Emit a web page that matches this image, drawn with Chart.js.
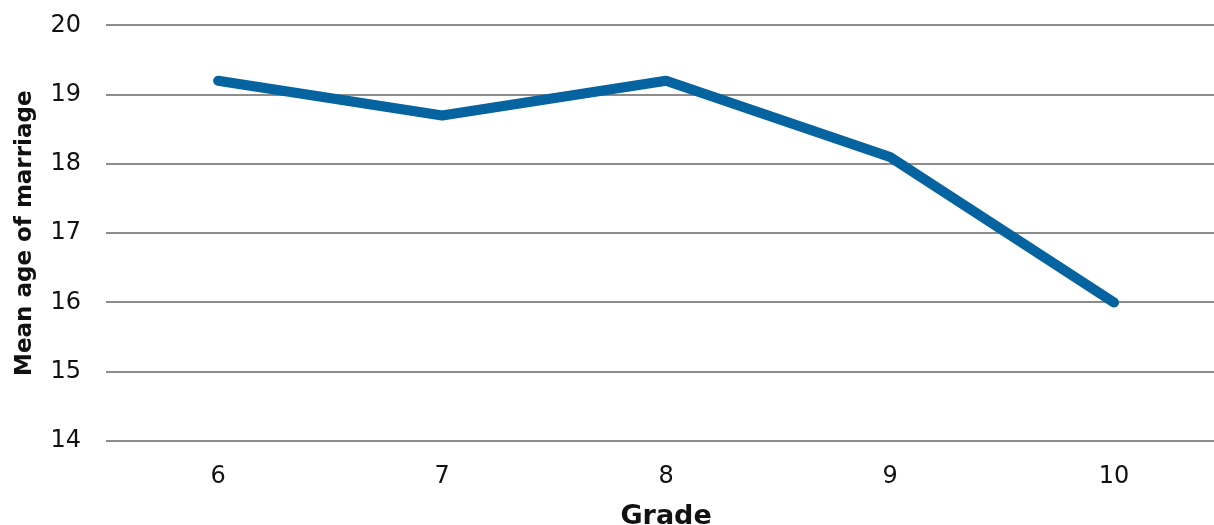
<!DOCTYPE html>
<html>
<head>
<meta charset="utf-8">
<script src="https://cdn.jsdelivr.net/npm/chart.js@4"></script>
<style>
  html, body { margin: 0; padding: 0; overflow: hidden; background: #fff; }
  #wrap { width: 1226px; height: 544px; margin-top: -14px; position: relative; }
</style>
</head>
<body>
<div id="wrap"><canvas id="ageChart"></canvas></div>
<script>
// Data
const grades = ["6", "7", "8", "9", "10"];
const meanAge = [19.2, 18.7, 19.2, 18.1, 16.0];
const yMin = 14;
const yMax = 20;

const font = "'DejaVu Sans', sans-serif";

new Chart(document.getElementById("ageChart"), {
  type: "line",
  data: {
    labels: grades,
    datasets: [
      {
        label: "Mean age of marriage",
        data: meanAge,
        borderColor: "#0563a0",
        borderWidth: 10,
        borderCapStyle: "round",
        borderJoinStyle: "round",
        pointRadius: 0,
        tension: 0,
      },
    ],
  },
  options: {
    responsive: true,
    maintainAspectRatio: false,
    animation: false,
    layout: { padding: { top: 0, left: 7, right: 0, bottom: 0 } },
    plugins: {
      legend: { display: false },
      tooltip: { enabled: false },
    },
    scales: {
      x: {
        offset: true,
        grid: { display: false },
        border: { display: false },
        ticks: { color: "#111", font: { family: font, size: 24, lineHeight: 1 }, padding: 16 },
        title: {
          display: true,
          text: "Grade",
          color: "#111",
          font: { family: font, size: 27, weight: "bold", lineHeight: 1 },
          padding: { top: -2, bottom: 0 },
        },
      },
      y: {
        min: yMin,
        max: yMax,
        grid: { color: "#8c8c8c", lineWidth: 2, drawTicks: false },
        border: { display: false },
        ticks: { stepSize: 1, color: "#111", font: { family: font, size: 24 }, padding: 25 },
        title: {
          display: true,
          text: "Mean age of marriage",
          color: "#111",
          font: { family: font, size: 23, weight: "bold" },
          padding: { top: 4, bottom: -13 },
        },
      },
    },
  },
});
</script>
</body>
</html>
